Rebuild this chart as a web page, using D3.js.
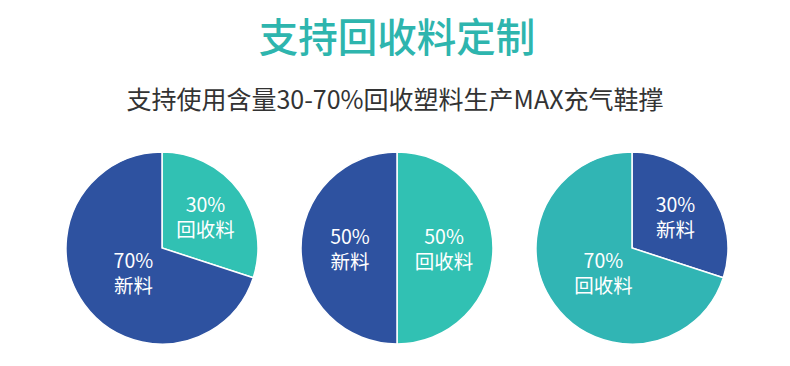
<!DOCTYPE html>
<html><head><meta charset="utf-8">
<script src="https://cdn.jsdelivr.net/npm/d3@7"></script>
<style>html,body{margin:0;padding:0;background:#fff;}svg{display:block;}</style>
</head><body>
<svg id="chart" width="790" height="366"></svg>
<script>
const title = "支持回收料定制";
const subtitle = "支持使用含量30-70%回收塑料生产MAX充气鞋撑";
const categories = ["回收料", "新料"];
const pieRecycled = [30, 50, 70];
const pieVirgin = [70, 50, 30];
const pieOrder = [["回收料","新料"],["回收料","新料"],["新料","回收料"]];

const W = 790, H = 366;
const svg = d3.select("#chart");
const font = "'Noto Sans CJK SC','Noto Sans',sans-serif";
const colorsByPie = [
  {"回收料":"#31c1b3","新料":"#2e52a0"},
  {"回收料":"#31c1b3","新料":"#2e52a0"},
  {"回收料":"#31b5b4","新料":"#2e52a0"}
];

svg.append("text").attr("x", 397).attr("y", 52).attr("text-anchor","middle")
  .attr("font-family", font).attr("font-size", 39.5).attr("font-weight", 500)
  .attr("fill", "#2eb5ae").text(title);
svg.append("text").attr("x", 395).attr("y", 109).attr("text-anchor","middle")
  .attr("font-family", font).attr("font-size", 25)
  .attr("fill", "#333").text(subtitle);

const x = d3.scalePoint().domain([0,1,2]).range([162, 632]);
const R = 96, cy = 248;

pieRecycled.forEach((rec, i) => {
  const vals = {"回收料": rec, "新料": pieVirgin[i]};
  const data = pieOrder[i].map(k => ({key:k, value: vals[k]}));
  const pie = d3.pie().value(d => d.value).sort(null);
  const arcs = pie(data);
  const arc = d3.arc().innerRadius(0).outerRadius(R);
  const g = svg.append("g").attr("transform", `translate(${x(i)},${cy})`);
  g.selectAll("path").data(arcs).join("path")
    .attr("d", arc).attr("fill", d => colorsByPie[i][d.data.key])
    .attr("stroke", "#fff").attr("stroke-width", 1.5);
  arcs.forEach(a => {
    const frac = a.data.value / 100;
    const lr = frac < 0.5 ? R*0.56 : frac > 0.5 ? R*0.42 : R*0.49;
    const c = d3.arc().innerRadius(lr).outerRadius(lr).centroid(a);
    const dx = frac > 0.5 ? 4 : 0;
    const t = g.append("text").attr("text-anchor","middle")
      .attr("font-family", font).attr("font-size", 19.5).attr("fill","#fff");
    t.append("tspan").attr("x", c[0] + dx).attr("y", c[1] - 4).text(a.data.value + "%");
    t.append("tspan").attr("x", c[0] + dx).attr("y", c[1] + 21).text(a.data.key);
  });
});
</script>
</body></html>
